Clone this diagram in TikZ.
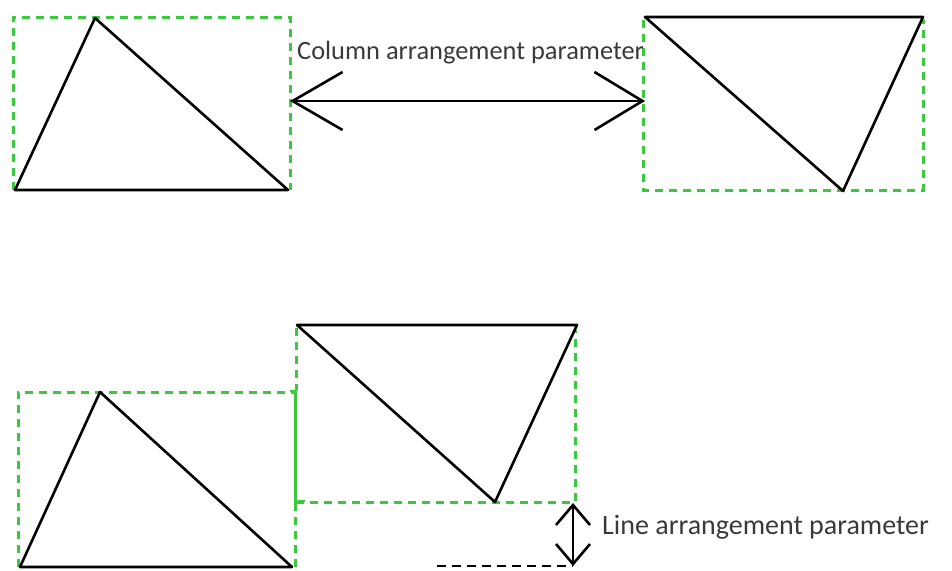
\documentclass[tikz,border=0pt]{standalone}
\usepackage{fontspec}
\setmainfont{Carlito}
\usetikzlibrary{arrows.meta}
\definecolor{boxgreen}{HTML}{3CC83C}
\definecolor{labelgray}{HTML}{3A3A3A}
\tikzset{
  shape line/.style={line width=2.6pt, black, line join=round},
  bbox/.style={boxgreen, line width=3pt, dash pattern=on 8pt off 6pt},
  bboxsolid/.style={boxgreen, line width=2.6pt},
  param/.style={labelgray, inner sep=0pt},
  wide arrow/.style={line width=2.6pt, {Straight Barb[length=50pt,width=58pt]}-{Straight Barb[length=48pt,width=58pt]}},
  tall arrow/.style={line width=2.6pt, {Straight Barb[length=20pt,width=34pt]}-{Straight Barb[length=20pt,width=34pt]}},
}
\begin{document}
\begin{tikzpicture}[x=1pt,y=-1pt]
\useasboundingbox[fill=white] (0,0) rectangle (952,570);

% ---- upper row: two shapes placed side by side ----
% left shape and its bounding box
\coordinate (A1) at (15,190);
\coordinate (A2) at (95,18);
\coordinate (A3) at (288,190);
\draw[bbox] (13,190) -- (13,17) -- (290,17) -- (290,190);
\draw[shape line] (A1) -- (A2) -- (A3) -- cycle;

% right shape and its bounding box
\coordinate (B1) at (645,17);
\coordinate (B2) at (923,17);
\coordinate (B3) at (843,191);
\draw[bbox] (643,20) -- (643,190) -- (923,190) -- (923,20);
\draw[shape line] (B1) -- (B2) -- (B3) -- cycle;

% column spacing arrow
\coordinate (colL) at (290,101);
\coordinate (colR) at (645,101);
\draw[wide arrow] (colL) -- (colR);
\node[param, font=\fontsize{26.4}{30}\selectfont, anchor=base west] (collabel) at (297,59) {Column arrangement parameter};

% ---- lower row: second shape shifted upward ----
% left shape and its bounding box
\coordinate (C1) at (20,567);
\coordinate (C2) at (100,392);
\coordinate (C3) at (292,567);
\draw[bbox] (18,567) -- (18,392) -- (295,392);
\draw[bboxsolid] (295,392) -- (295,503);
\draw[bbox] (295,503) -- (295,567);
\draw[boxgreen, line width=1.5pt] (298,501) -- (305,501);
\draw[shape line] (C1) -- (C2) -- (C3) -- cycle;

% right shape and its bounding box
\coordinate (D1) at (297,325);
\coordinate (D2) at (577,325);
\coordinate (D3) at (495,502);
\draw[bbox] (296,328) -- (296,390);
\draw[bboxsolid] (290,391) -- (296,391) -- (296,502);
\draw[bbox] (296,502) -- (575,502) -- (575,330);
\draw[shape line] (D1) -- (D2) -- (D3) -- cycle;

% row spacing arrow and baseline marker
\coordinate (rowT) at (573,503);
\coordinate (rowB) at (573,566);
\coordinate (baseL) at (437,566);
\draw[black, line width=2.6pt, dash pattern=on 9pt off 6pt] (baseL) -- (rowB);
\draw[tall arrow] (rowT) -- (rowB);
\node[param, font=\fontsize{28}{32}\selectfont, anchor=base west] (rowlabel) at (602,534) {Line arrangement parameter};
\end{tikzpicture}
\end{document}
